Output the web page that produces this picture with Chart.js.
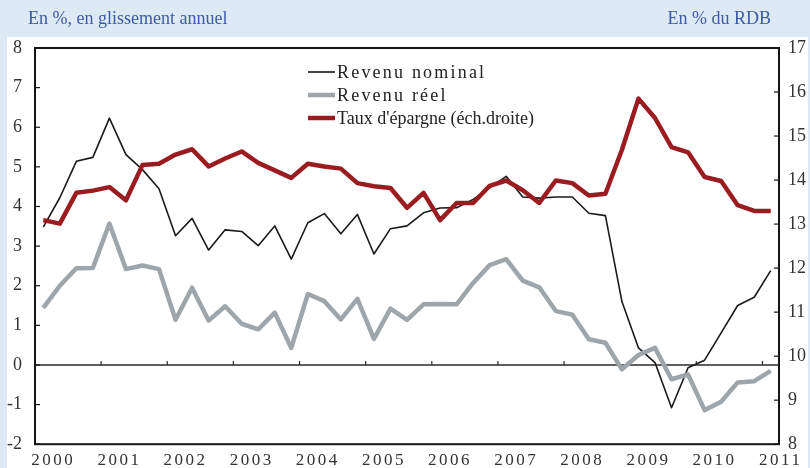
<!DOCTYPE html>
<html><head><meta charset="utf-8">
<script src="https://cdn.jsdelivr.net/npm/chart.js@4.4.0/dist/chart.umd.min.js"></script>
<style>html,body{margin:0;padding:0;background:#dde9f5;}</style>
</head><body>
<canvas id="c" width="810" height="468" style="display:block;width:810px;height:468px"></canvas>
<script>
const quarters = ['2000T1','2000T2','2000T3','2000T4','2001T1','2001T2','2001T3','2001T4','2002T1','2002T2','2002T3','2002T4','2003T1','2003T2','2003T3','2003T4','2004T1','2004T2','2004T3','2004T4','2005T1','2005T2','2005T3','2005T4','2006T1','2006T2','2006T3','2006T4','2007T1','2007T2','2007T3','2007T4','2008T1','2008T2','2008T3','2008T4','2009T1','2009T2','2009T3','2009T4','2010T1','2010T2','2010T3','2010T4','2011T1'];
const yearLabels = ['2000','2001','2002','2003','2004','2005','2006','2007','2008','2009','2010','2011'];
const nominal = [3.48,4.22,5.14,5.24,6.23,5.31,4.93,4.45,3.26,3.70,2.90,3.41,3.37,3.01,3.51,2.67,3.59,3.82,3.31,3.80,2.80,3.44,3.51,3.84,3.96,3.97,4.18,4.47,4.76,4.24,4.21,4.24,4.24,3.83,3.77,1.60,0.43,0.06,-1.08,-0.07,0.12,0.81,1.50,1.71,2.38];
const real = [1.44,2.00,2.44,2.45,3.57,2.42,2.51,2.42,1.14,1.95,1.12,1.48,1.04,0.90,1.32,0.43,1.79,1.61,1.15,1.67,0.66,1.42,1.14,1.53,1.54,1.53,2.07,2.52,2.67,2.13,1.96,1.36,1.27,0.65,0.56,-0.11,0.25,0.43,-0.36,-0.24,-1.14,-0.93,-0.44,-0.41,-0.15];
const savings = [13.09,13.01,13.71,13.76,13.84,13.54,14.34,14.37,14.58,14.70,14.31,14.49,14.65,14.39,14.22,14.05,14.37,14.31,14.26,13.93,13.86,13.82,13.37,13.71,13.09,13.48,13.48,13.87,13.99,13.77,13.48,13.99,13.93,13.65,13.69,14.69,15.85,15.41,14.75,14.63,14.07,13.98,13.43,13.30,13.30];
const leftTitle = 'En %, en glissement annuel';
const rightTitle = 'En % du RDB';

const SERIF = '"Liberation Serif", "DejaVu Serif", serif';

const deco = {
  id: 'deco',
  beforeDraw(chart) {
    const ctx = chart.ctx;
    ctx.save();
    ctx.fillStyle = '#dde9f5';
    ctx.fillRect(0, 0, chart.width, chart.height);
    ctx.fillStyle = '#ffffff';
    ctx.fillRect(7, 37, 801, chart.height - 37);
    ctx.fillStyle = '#3d5ba6';
    ctx.font = '18px ' + SERIF;
    ctx.textBaseline = 'alphabetic';
    ctx.textAlign = 'left';
    ctx.fillText(leftTitle, 28, 24);
    ctx.textAlign = 'right';
    ctx.fillText(rightTitle, 771, 24);
    ctx.restore();
  },
  beforeDatasetsDraw(chart) {
    const ctx = chart.ctx, a = chart.chartArea, y = chart.scales.y, x = chart.scales.x;
    const y0 = y.getPixelForValue(0);
    ctx.save();
    ctx.strokeStyle = '#2a2a2a';
    ctx.lineWidth = 1.6;
    ctx.beginPath();
    ctx.moveTo(a.left, y0); ctx.lineTo(a.right, y0);
    ctx.stroke();
    ctx.lineWidth = 1.2;
    for (let k = 0; k <= 10; k++) {
      const px = (x.getPixelForValue(4*k+3) + x.getPixelForValue(4*k+4)) / 2;
      ctx.beginPath();
      ctx.moveTo(px, y0); ctx.lineTo(px, y0 - 4);
      ctx.stroke();
    }
    ctx.restore();
  },
  afterDraw(chart) {
    const ctx = chart.ctx, a = chart.chartArea, y = chart.scales.y, y1 = chart.scales.y1, x = chart.scales.x;
    ctx.save();
    ctx.strokeStyle = '#151515';
    ctx.lineWidth = 1.2;
    for (let v = -2; v <= 8; v++) {
      const py = y.getPixelForValue(v);
      ctx.beginPath(); ctx.moveTo(a.left, py); ctx.lineTo(a.left + 5, py); ctx.stroke();
    }
    for (let v = 8; v <= 17; v++) {
      const py = y1.getPixelForValue(v);
      ctx.beginPath(); ctx.moveTo(a.right - 5, py); ctx.lineTo(a.right, py); ctx.stroke();
    }
    ctx.lineWidth = 2;
    ctx.strokeRect(a.left, a.top, a.right - a.left, a.bottom - a.top);
    // x labels
    ctx.fillStyle = '#333333';
    ctx.font = '17px ' + SERIF;
    ctx.textAlign = 'center';
    ctx.textBaseline = 'middle';
    if ('letterSpacing' in ctx) ctx.letterSpacing = '2.5px';
    yearLabels.forEach((lab, k) => {
      const px = x.getPixelForValue(4*k) + 10;
      ctx.fillText(lab, px, 461);
    });
    // legend
    const ds = chart.data.datasets;
    ctx.textAlign = 'left';
    ctx.font = '18px ' + SERIF;
    ctx.fillStyle = '#222222';
    ds.forEach((d, i) => {
      const ly = 72 + 23 * i;
      ctx.strokeStyle = d.borderColor;
      ctx.lineWidth = d.borderWidth;
      ctx.beginPath(); ctx.moveTo(308, ly); ctx.lineTo(335, ly); ctx.stroke();
      if ('letterSpacing' in ctx) ctx.letterSpacing = i < 2 ? '2.2px' : '0px';
      ctx.fillText(d.label, 337, ly + 1);
    });
    ctx.restore();
  }
};

new Chart(document.getElementById('c'), {
  type: 'line',
  data: {
    labels: quarters,
    datasets: [
      {label: 'Revenu nominal', data: nominal, borderColor: '#1a1a1a', borderWidth: 1.6, yAxisID: 'y', order: 3},
      {label: 'Revenu réel', data: real, borderColor: '#9ea6ab', borderWidth: 4.5, yAxisID: 'y', order: 2},
      {label: "Taux d'épargne (éch.droite)", data: savings, borderColor: '#9b1c20', borderWidth: 4.5, yAxisID: 'y1', order: 1}
    ]
  },
  options: {
    responsive: false,
    animation: false,
    events: [],
    layout: {padding: {top: 48, left: 0, right: 0, bottom: 0}},
    plugins: {legend: {display: false}, tooltip: {enabled: false}, title: {display: false}},
    elements: {point: {radius: 0}, line: {tension: 0, borderJoinStyle: 'round', borderCapStyle: 'butt', fill: false}},
    scales: {
      x: {
        type: 'category', offset: true,
        grid: {display: false, drawTicks: false}, border: {display: false},
        ticks: {display: false},
        afterFit: s => { s.height = 22; }
      },
      y: {
        position: 'left', min: -2, max: 8,
        grid: {display: false, drawTicks: false}, border: {display: false},
        ticks: {stepSize: 1, padding: 13, color: '#333333', font: {family: SERIF, size: 18}},
        afterFit: s => { s.width = 35; }
      },
      y1: {
        position: 'right', min: 8, max: 17,
        grid: {display: false, drawTicks: false}, border: {display: false},
        ticks: {stepSize: 1, padding: 9, color: '#333333', font: {family: SERIF, size: 18}},
        afterFit: s => { s.width = 31; }
      }
    }
  },
  plugins: [deco]
});
</script>
</body></html>
